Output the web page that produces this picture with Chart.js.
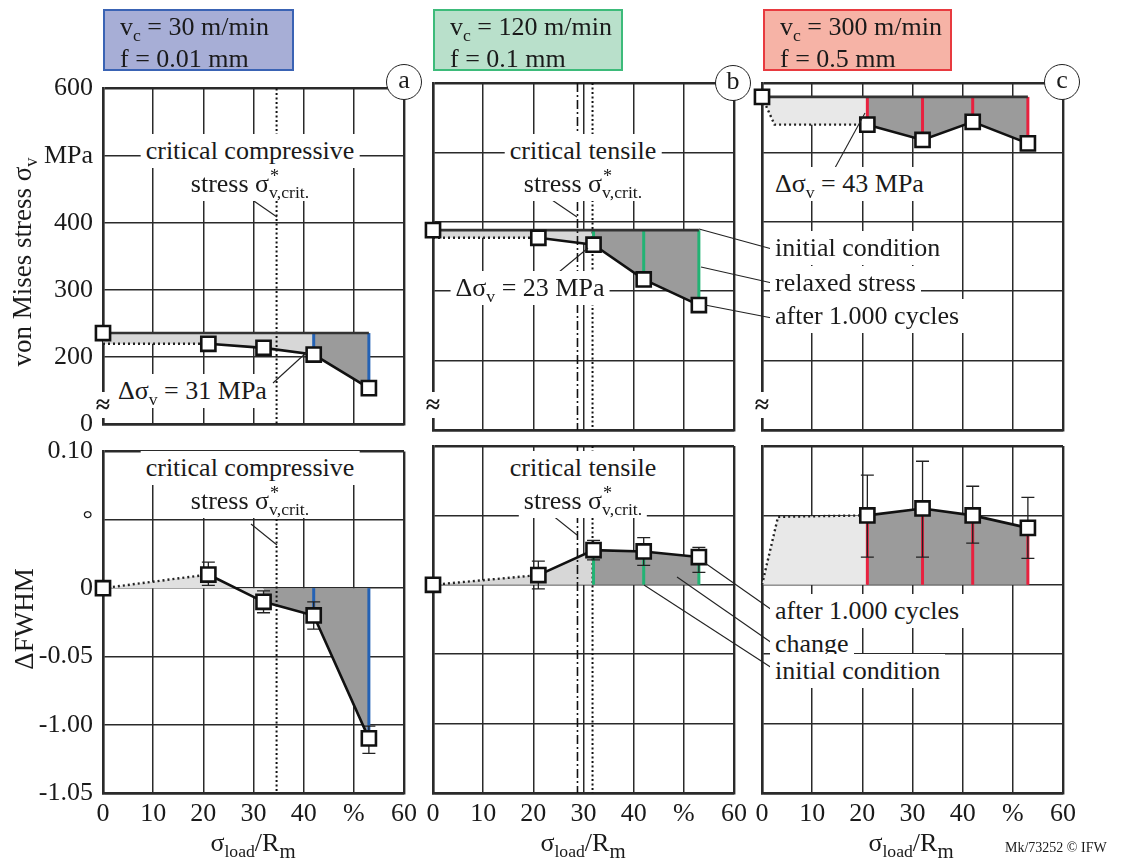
<!DOCTYPE html>
<html lang="en">
<head>
<meta charset="UTF-8">
<title>von Mises stress and FWHM after 1.000 cycles</title>
<script src="https://cdn.jsdelivr.net/npm/chart.js"></script>
<style>
    body { margin: 0; background: #fff; }
    #page { position: relative; width: 1132px; height: 862px; overflow: hidden;
            font-family: 'Liberation Serif', 'DejaVu Serif', serif; color: #1a1a1a; }
    #page canvas { position: absolute; }
    .lbl { position: absolute; white-space: nowrap; line-height: 1; font-size: 26px; }
    .bg { background: #fff; padding: 4px 5px; }
    .sub { font-size: 0.68em; position: relative; top: 0.32em; }
    .sig { position: relative; }
    .star { position: absolute; font-size: 0.7em; left: 100%; top: -0.12em; margin-left: 1px; }
    .box { position: absolute; top: 9px; height: 62px; box-sizing: border-box; border: 2px solid;
           font-size: 26px; line-height: 29px; padding-left: 15px; padding-top: 1px; white-space: nowrap; }
    .circ { position: absolute; width: 36px; height: 36px; box-sizing: border-box; border: 1.6px solid #222;
            border-radius: 50%; background: #fff; text-align: center; font-size: 26px; line-height: 30px; }
</style>
</head>
<body>
<div id="page"></div>
<script>
    // load ratio sigma_load / R_m in %
    var loadRatio = [0, 21, 32, 42, 53];
    var xTickLabels = ['0', '10', '20', '30', '40', '%', '60'];
    var stressTickLabels = ['0', '200', '300', '400', 'MPa', '600'];
    var fwhmTickLabels = ['-1.05', '-1.00', '-0.05', '0', '°', '0.10'];

    // von Mises stress in MPa, first value = initial condition, rest = after 1.000 cycles
    var stressA = [236, 220, 214, 204, 154];
    var stressB = [388, 377, 367, 317, 280];
    var stressC = [580, 540, 518, 544, 513];
    // dotted start of the relaxed stress curve [load %, MPa]
    var relaxedA = [[0, 220], [21, 220]];
    var relaxedB = [[0, 377], [21, 377]];
    var relaxedC = [[0, 580], [2.5, 540], [21, 540]];

    // delta FWHM after 1.000 cycles and error bar ends
    var fwhmA = [0, 0.010, -0.010, -0.020, -0.110];
    var fwhmB = [0, 0.007, 0.025, 0.024, 0.020];
    var fwhmC = [0, 0.050, 0.055, 0.050, 0.041];
    var fwhmLowA = [null, 0.002, -0.018, -0.030, -0.121];
    var fwhmHighA = [null, 0.019, -0.002, -0.010, -0.101];
    var fwhmLowB = [null, -0.003, 0.018, 0.014, 0.009];
    var fwhmHighB = [null, 0.017, 0.032, 0.034, 0.027];
    var fwhmLowC = [null, 0.020, 0.020, 0.030, 0.019];
    var fwhmHighC = [null, 0.079, 0.089, 0.071, 0.063];
    var fwhmStartA = [[0, 0], [21, 0.010]];
    var fwhmStartB = [[0, 0], [21, 0.007]];
    var fwhmStartC = [[0, 0], [3.2, 0.049], [21, 0.050]];

    // critical stress lines [load %]
    var critCompressive = 34.6;
    var critTensileDashDot = 28.8;
    var critTensileDotted = 31.8;

    var page = document.getElementById('page');
    var W = 301, H = 347;
    var gridColor = '#2a2a2a';
    var font = { family: "'Liberation Serif', serif", size: 26 };
    var blue = '#2462b5', green = '#22b374', red = '#e8213f';
    var charts = [];

    function buildPanel(p) {
        var top = p.kind === 'stress';
        var yW = p.yLabels ? p.L : 20;
        var xH = top ? 20 : 40;
        var cv = document.createElement('canvas');
        cv.width = yW + W + 20;
        cv.height = 20 + H + xH;
        cv.style.left = (p.L - yW) + 'px';
        cv.style.top = (p.T - 20) + 'px';
        page.appendChild(cv);

        var vals = p.values;
        var base = top ? vals[0] : 0;
        function pt(i) { return { x: loadRatio[i], y: vals[i] }; }
        function range(a, b) { var r = []; for (var i = a; i <= b; i++) r.push(i); return r; }
        var dotted = p.start.map(function (d) { return { x: d[0], y: d[1] }; });
        var light = dotted.concat(range(2, p.darkFrom).map(pt));
        var dark = range(p.darkFrom, vals.length - 1).map(pt);
        var solid = range(1, vals.length - 1).map(pt);

        var marker = { pointStyle: 'rect', pointRadius: 10, pointBorderWidth: 2.6,
                       pointBackgroundColor: '#fff', pointBorderColor: '#111' };
        var datasets = [];
        if (p.initMarker) {
            datasets.push(Object.assign({ data: [{ x: 0, y: vals[0] }], showLine: false, clip: false }, marker));
        }
        datasets.push(Object.assign({ data: solid, borderColor: '#111', borderWidth: 2.6, fill: false, clip: false }, marker));
        datasets.push({ data: dotted, borderColor: '#222', borderWidth: 2.4, borderDash: [2, 3], pointRadius: 0, fill: false, clip: false });
        if (top) {
            datasets.push({ data: [{ x: 0, y: base }, { x: loadRatio[vals.length - 1], y: base }],
                            borderColor: '#333', borderWidth: 2.6, pointRadius: 0, fill: false, clip: false });
        }
        datasets.push({ data: dark, borderWidth: 0, pointRadius: 0, fill: { value: base }, backgroundColor: '#9b9b9b' });
        datasets.push({ data: light, borderWidth: 0, pointRadius: 0, fill: { value: base }, backgroundColor: p.light });

        var extras = {
            id: 'extras',
            beforeDatasetsDraw: function (chart) {
                var ctx = chart.ctx, a = chart.chartArea, x = chart.scales.x, y = chart.scales.y;
                ctx.save();
                (p.crit || []).forEach(function (c) {
                    var px = x.getPixelForValue(c.x);
                    ctx.beginPath();
                    ctx.setLineDash(c.dash);
                    ctx.lineWidth = c.width;
                    ctx.strokeStyle = '#111';
                    ctx.moveTo(px, a.top);
                    ctx.lineTo(px, a.bottom);
                    ctx.stroke();
                });
                ctx.setLineDash([]);
                ctx.strokeStyle = p.markColor;
                ctx.lineWidth = 3;
                for (var i = p.markFrom; i < vals.length; i++) {
                    var mx = x.getPixelForValue(loadRatio[i]);
                    ctx.beginPath();
                    ctx.moveTo(mx, y.getPixelForValue(base));
                    ctx.lineTo(mx, y.getPixelForValue(vals[i]));
                    ctx.stroke();
                }
                if (p.low) {
                    ctx.strokeStyle = '#222';
                    ctx.lineWidth = 1.3;
                    for (var j = 1; j < vals.length; j++) {
                        var ex = x.getPixelForValue(loadRatio[j]);
                        var lo = y.getPixelForValue(p.low[j]), hi = y.getPixelForValue(p.high[j]);
                        ctx.beginPath();
                        ctx.moveTo(ex, lo); ctx.lineTo(ex, hi);
                        ctx.moveTo(ex - 6.5, lo); ctx.lineTo(ex + 6.5, lo);
                        ctx.moveTo(ex - 6.5, hi); ctx.lineTo(ex + 6.5, hi);
                        ctx.stroke();
                    }
                }
                ctx.restore();
            }
        };

        function edgeWidth(min, max) {
            return function (c) { return (c.tick && (c.tick.value === min || c.tick.value === max)) ? 2.4 : 1.5; };
        }
        var yMin = top ? 100 : -0.15, yMax = top ? 600 : 0.10;
        var yLabels = top ? stressTickLabels : fwhmTickLabels;

        var chart = new Chart(cv.getContext('2d'), {
            type: 'line',
            data: { datasets: datasets },
            options: {
                responsive: false,
                animation: false,
                devicePixelRatio: 1,
                events: [],
                elements: { line: { tension: 0 } },
                layout: { padding: { top: 20, right: 20, left: 0, bottom: 0 } },
                plugins: {
                    legend: { display: false },
                    tooltip: { enabled: false },
                    filler: { drawTime: 'beforeDatasetsDraw' }
                },
                scales: {
                    x: {
                        type: 'linear', min: 0, max: 60,
                        ticks: { stepSize: 10, display: !top, autoSkip: false, maxRotation: 0,
                                 font: font, color: '#1a1a1a', padding: 6,
                                 callback: function (v, i) { return xTickLabels[i]; } },
                        grid: { color: gridColor, lineWidth: edgeWidth(0, 60), drawTicks: false },
                        border: { color: '#2a2a2a', width: 2.4 },
                        afterFit: function (s) { s.height = xH; }
                    },
                    y: {
                        type: 'linear', min: yMin, max: yMax,
                        ticks: { stepSize: top ? 100 : 0.05, display: p.yLabels, autoSkip: false,
                                 font: font, color: '#1a1a1a', padding: 10,
                                 callback: function (v, i) { return yLabels[i]; } },
                        grid: { color: gridColor, lineWidth: edgeWidth(yMin, yMax), drawTicks: false },
                        border: { color: '#2a2a2a', width: 2.4 },
                        afterFit: function (s) { s.width = yW; }
                    }
                }
            },
            plugins: [extras]
        });
        charts.push(chart);
    }

    var rowTop = 83, rowBottom = 446;
    buildPanel({ kind: 'stress', L: 103, T: rowTop, yLabels: true, values: stressA, start: relaxedA,
                 darkFrom: 3, markFrom: 3, markColor: blue, light: '#d7d7d7', initMarker: true,
                 crit: [{ x: critCompressive, dash: [2, 2.5], width: 2 }] });
    buildPanel({ kind: 'stress', L: 433, T: rowTop, yLabels: false, values: stressB, start: relaxedB,
                 darkFrom: 2, markFrom: 2, markColor: green, light: '#d7d7d7', initMarker: true,
                 crit: [{ x: critTensileDashDot, dash: [9, 3, 2, 3], width: 1.6 },
                        { x: critTensileDotted, dash: [2, 2.5], width: 2 }] });
    buildPanel({ kind: 'stress', L: 762, T: rowTop, yLabels: false, values: stressC, start: relaxedC,
                 darkFrom: 1, markFrom: 1, markColor: red, light: '#e8e8e8', initMarker: true });
    buildPanel({ kind: 'fwhm', L: 103, T: rowBottom, yLabels: true, values: fwhmA, start: fwhmStartA,
                 low: fwhmLowA, high: fwhmHighA,
                 darkFrom: 2, markFrom: 3, markColor: blue, light: '#e0e0e0', initMarker: true,
                 crit: [{ x: critCompressive, dash: [2, 2.5], width: 2 }] });
    buildPanel({ kind: 'fwhm', L: 433, T: rowBottom, yLabels: false, values: fwhmB, start: fwhmStartB,
                 low: fwhmLowB, high: fwhmHighB,
                 darkFrom: 2, markFrom: 2, markColor: green, light: '#d7d7d7', initMarker: true,
                 crit: [{ x: critTensileDashDot, dash: [9, 3, 2, 3], width: 1.6 },
                        { x: critTensileDotted, dash: [2, 2.5], width: 2 }] });
    buildPanel({ kind: 'fwhm', L: 762, T: rowBottom, yLabels: false, values: fwhmC, start: fwhmStartC,
                 low: fwhmLowC, high: fwhmHighC,
                 darkFrom: 1, markFrom: 1, markColor: red, light: '#e8e8e8', initMarker: false });

    // leader lines on an overlay canvas
    var ov = document.createElement('canvas');
    ov.width = 1132; ov.height = 862;
    ov.style.left = '0px'; ov.style.top = '0px';
    page.appendChild(ov);
    var octx = ov.getContext('2d');
    var leaders = [
        [251, 199, 277, 217], [273, 383, 307, 352],
        [552, 200, 577, 217], [553, 277, 588, 248],
        [699, 229, 772, 249], [701, 267, 772, 283], [705, 305, 772, 318],
        [830, 177, 865, 113],
        [251, 524, 277, 545], [552, 515, 577, 535],
        [705, 563, 772, 610], [677, 577, 772, 643], [644, 585, 772, 668]
    ];
    octx.strokeStyle = '#222';
    octx.lineWidth = 1.1;
    leaders.forEach(function (l) {
        octx.beginPath();
        octx.moveTo(l[0], l[1]);
        octx.lineTo(l[2], l[3]);
        octx.stroke();
    });

    function addText(html, x, y, align, cls, extra) {
        var d = document.createElement('div');
        d.className = 'lbl ' + (cls || '');
        d.innerHTML = html;
        d.style.left = x + 'px';
        d.style.top = y + 'px';
        var tr = align === 'center' ? 'translateX(-50%)' : '';
        d.style.transform = tr + ' ' + (extra || '');
        page.appendChild(d);
        return d;
    }
    var sigCrit = 'stress <span class="sig">σ<span class="star">*</span></span><span class="sub">v,crit.</span>';
    var padY = 4;

    addText('critical compressive', 250, 138 - padY, 'center', 'bg');
    addText(sigCrit, 250, 171 - padY, 'center', 'bg');
    addText('Δσ<span class="sub">v</span> = 31 MPa', 113, 378 - padY, 'left', 'bg');
    addText('critical tensile', 583, 138 - padY, 'center', 'bg');
    addText(sigCrit, 583, 171 - padY, 'center', 'bg');
    addText('Δσ<span class="sub">v</span> = 23 MPa', 530, 275 - padY, 'center', 'bg');
    addText('Δσ<span class="sub">v</span> = 43 MPa', 770, 171 - padY, 'left', 'bg');
    addText('initial condition', 770, 235 - padY, 'left', 'bg');
    addText('relaxed stress', 770, 270 - padY, 'left', 'bg');
    addText('after 1.000 cycles', 770, 303 - padY, 'left', 'bg');

    addText('critical compressive', 250, 455 - padY, 'center', 'bg');
    addText(sigCrit, 250, 488 - padY, 'center', 'bg');
    addText('critical tensile', 583, 455 - padY, 'center', 'bg');
    addText(sigCrit, 583, 488 - padY, 'center', 'bg');
    addText('after 1.000 cycles', 770, 598 - padY, 'left', 'bg');
    addText('change', 770, 631 - padY, 'left', 'bg');
    addText('initial condition', 770, 658 - padY, 'left', 'bg');

    // axis break marks
    [103, 433, 762].forEach(function (x) {
        var d = addText('≈', x, 392, 'center', '', '');
        d.style.fontSize = '26px';
        d.style.fontWeight = 'bold';
        d.style.background = '#fff';
    });

    // axis titles
    var yt = addText('von Mises stress σ<span class="sub">v</span>', 22, 262, '', '', 'translate(-50%, -50%) rotate(-90deg)');
    yt.style.fontSize = '27px';
    var ft = addText('ΔFWHM', 24, 619, '', '', 'translate(-50%, -50%) rotate(-90deg)');
    ft.style.fontSize = '27px';
    [253, 583, 911].forEach(function (x) {
        addText('σ<span class="sub">load</span>/R<span class="sub" style="font-size:0.8em">m</span>', x, 830, 'center');
    });
    var cp = addText('Mk/73252 © IFW', 1005, 841, 'left');
    cp.style.fontSize = '14px';

    // condition boxes
    var boxes = [
        { left: 103, width: 191, bg: '#a7aed6', border: '#3a63b4', vc: '30', f: '0.01' },
        { left: 433, width: 190, bg: '#b9e0cb', border: '#3dbb7a', vc: '120', f: '0.1' },
        { left: 763, width: 189, bg: '#f6b3a6', border: '#e83a3f', vc: '300', f: '0.5' }
    ];
    boxes.forEach(function (b) {
        var d = document.createElement('div');
        d.className = 'box';
        d.style.left = b.left + 'px';
        d.style.width = b.width + 'px';
        d.style.background = b.bg;
        d.style.borderColor = b.border;
        d.innerHTML = 'v<span class="sub">c</span> = ' + b.vc + ' m/min<br>f = ' + b.f + ' mm';
        page.appendChild(d);
    });

    // panel letters
    [[404, 82, 'a'], [733, 83, 'b'], [1062, 82, 'c']].forEach(function (c) {
        var d = document.createElement('div');
        d.className = 'circ';
        d.style.left = (c[0] - 18) + 'px';
        d.style.top = (c[1] - 18) + 'px';
        d.textContent = c[2];
        page.appendChild(d);
    });
</script>
</body>
</html>
